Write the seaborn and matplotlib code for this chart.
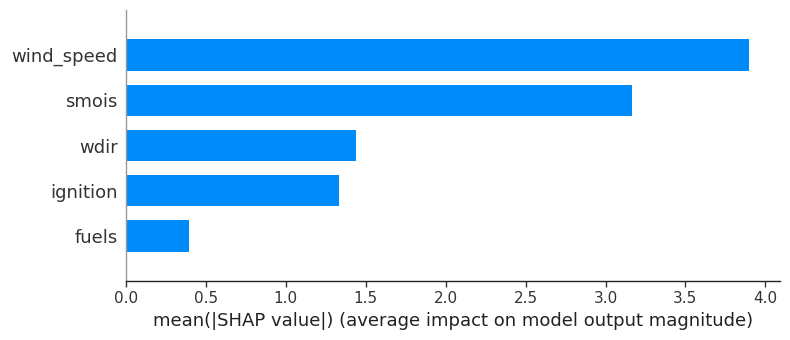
import matplotlib
matplotlib.use("Agg")
import matplotlib.pyplot as plt
import seaborn as sns
import pandas as pd

features = ["wind_speed", "smois", "wdir", "ignition", "fuels"]
mean_abs_shap = [3.895, 3.165, 1.44, 1.333, 0.395]
xticks = [0.0, 0.5, 1.0, 1.5, 2.0, 2.5, 3.0, 3.5, 4.0]

sns.set_theme(style="white")
plt.rcParams['font.family'] = ['DejaVu Sans']

df = pd.DataFrame({"feature": features, "value": mean_abs_shap})

fig = plt.figure(figsize=(7.9, 3.4), dpi=100)
ax = fig.add_axes([0.1595, 0.1735, 0.8275, 0.797])
sns.barplot(data=df, x="value", y="feature", order=features, orient="h",
            color="#008bfb", saturation=1, width=0.7, linewidth=0, ax=ax)
ax.set_ylim(5, -1)
ax.set_xlim(0, 4.09)
ax.set_xticks(xticks)
ax.set_xticklabels([f"{t:.1f}" for t in xticks], fontsize=11, color="#333333")
ax.tick_params(axis="y", length=0, labelsize=13, labelcolor="#333333", pad=6)
ax.tick_params(axis="x", length=4, width=1, color="#333333", direction="out", bottom=True)
for s in ["top", "right"]:
    ax.spines[s].set_visible(False)
ax.spines["left"].set_color("#999999")
ax.spines["left"].set_linewidth(1)
ax.spines["bottom"].set_color("#222222")
ax.spines["bottom"].set_linewidth(1)
ax.set_ylabel("")
ax.set_xlabel("mean(|SHAP value|) (average impact on model output magnitude)", fontsize=13, color="#222222")
fig.savefig("out.png", dpi=100)
